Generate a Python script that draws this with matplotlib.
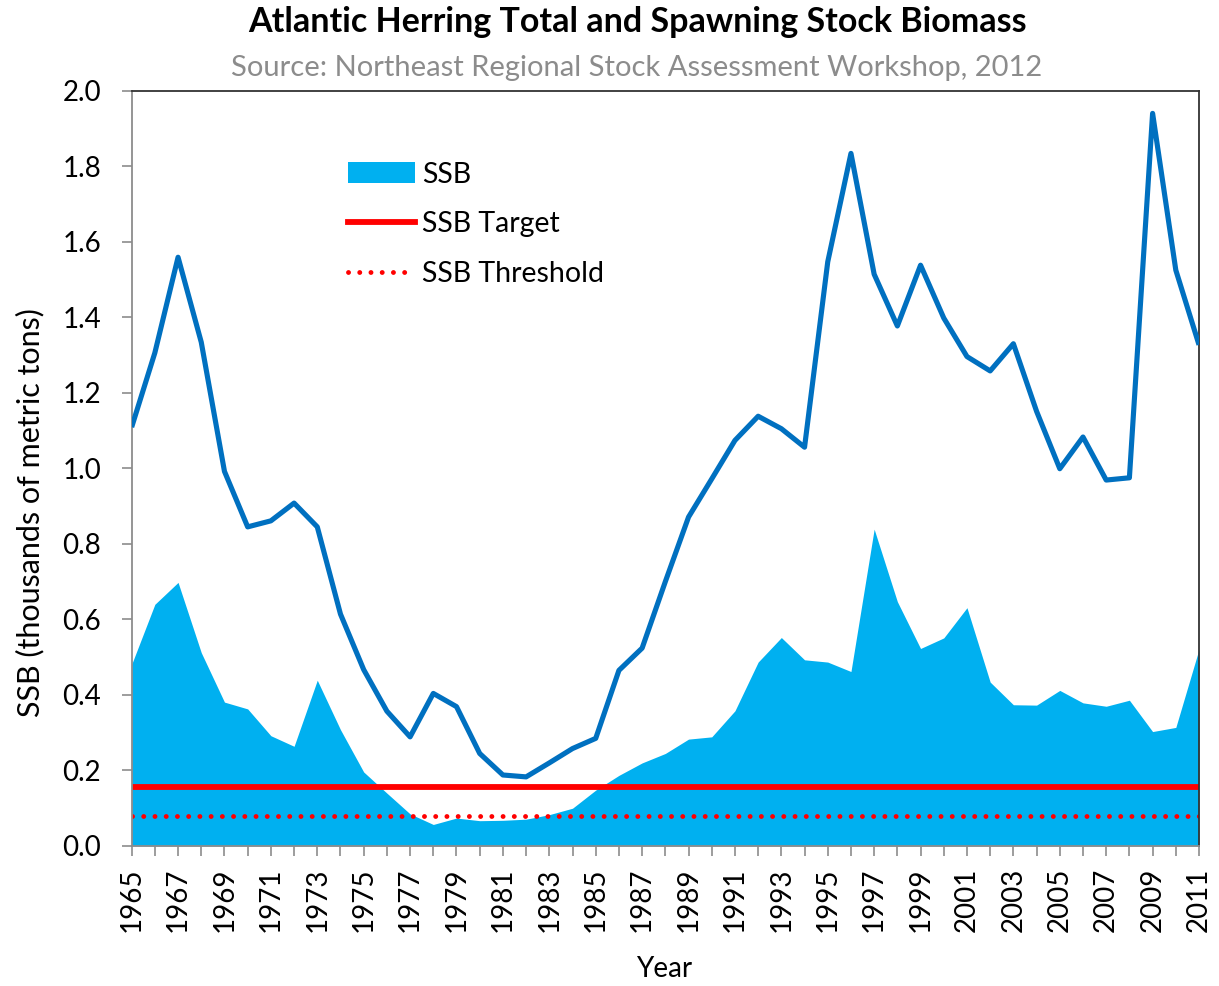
import matplotlib
matplotlib.use("Agg")
import matplotlib.pyplot as plt
from matplotlib.patches import Patch
from matplotlib.lines import Line2D

years = list(range(1965, 2012))
total_biomass = [1.109, 1.306, 1.559, 1.334, 0.992, 0.845, 0.861, 0.908, 0.845, 0.614,
                 0.467, 0.357, 0.289, 0.404, 0.369, 0.245, 0.188, 0.183, 0.220, 0.258,
                 0.285, 0.465, 0.524, 0.700, 0.871, 0.972, 1.074, 1.138, 1.105, 1.056,
                 1.547, 1.834, 1.514, 1.377, 1.538, 1.398, 1.296, 1.258, 1.330, 1.151,
                 0.999, 1.083, 0.969, 0.975, 1.940, 1.525, 1.327]
ssb = [0.481, 0.640, 0.698, 0.512, 0.381, 0.363, 0.292, 0.264, 0.439, 0.308,
       0.196, 0.140, 0.085, 0.057, 0.074, 0.067, 0.068, 0.071, 0.083, 0.100,
       0.148, 0.187, 0.220, 0.245, 0.283, 0.289, 0.358, 0.487, 0.552, 0.493,
       0.487, 0.462, 0.839, 0.647, 0.523, 0.551, 0.631, 0.434, 0.374, 0.373,
       0.412, 0.379, 0.370, 0.386, 0.303, 0.314, 0.521]
ssb_target = 0.157
ssb_threshold = 0.0785
y_ticks = [0.0, 0.2, 0.4, 0.6, 0.8, 1.0, 1.2, 1.4, 1.6, 1.8, 2.0]

plt.rcParams['font.family'] = ['Lato', 'DejaVu Sans']

fig = plt.figure(figsize=(12.19, 9.86), dpi=100)
ax = fig.add_axes([0.108, 0.142, 0.8756, 0.766])

dot_style = (0, (0.01, 2.3))

ax.fill_between(years, 0, ssb, color='#00B0F0', linewidth=0, zorder=1)
ax.axhline(ssb_target, color='#FF0000', linewidth=4.2, zorder=2)
ax.axhline(ssb_threshold, color='#FF0000', linewidth=3.5, linestyle=dot_style,
           dash_capstyle='round', zorder=2)
ax.plot(years, total_biomass, color='#0070C0', linewidth=3.7, zorder=3,
        solid_joinstyle='round', solid_capstyle='butt')

ax.set_xlim(1965, 2011)
ax.set_ylim(0, 2.0)
ax.set_yticks(y_ticks)
ax.set_yticklabels([f"{v:.1f}" for v in y_ticks], fontsize=20)
ax.set_xticks(years)
ax.set_xticklabels([str(y) if (y - 1965) % 2 == 0 else '' for y in years],
                   rotation=90, fontsize=20)
ax.tick_params(axis='both', direction='out', length=7.5, width=1.2, color='#8C8C8C')
ax.tick_params(axis='x', pad=8)
ax.tick_params(axis='y', pad=14.5)

for s in ['left', 'bottom']:
    ax.spines[s].set_color('#8C8C8C')
    ax.spines[s].set_linewidth(1.3)
for s in ['top', 'right']:
    ax.spines[s].set_color('#333333')
    ax.spines[s].set_linewidth(1.3)

ax.set_ylabel('SSB (thousands of metric tons)', fontsize=22)
ax.yaxis.set_label_coords(-0.082, 0.441)
ax.set_xlabel('Year', fontsize=20)
ax.xaxis.set_label_coords(0.499, -0.145)

fig.text(0.523, 0.978, 'Atlantic Herring Total and Spawning Stock Biomass',
         ha='center', va='center', fontsize=24.5, fontweight='bold', color='#000000')
fig.text(0.522, 0.931, 'Source: Northeast Regional Stock Assessment Workshop, 2012',
         ha='center', va='center', fontsize=21, color='#8C8C8C')

handles = [Patch(facecolor='#00B0F0', edgecolor='none'),
           Line2D([0], [0], color='#FF0000', linewidth=4.2),
           Line2D([0], [0], color='#FF0000', linewidth=3.5, linestyle=dot_style,
                  dash_capstyle='round')]
labels = ['SSB', 'SSB Target', 'SSB Threshold']
leg = ax.legend(handles, labels, loc='upper left', bbox_to_anchor=(0.1787, 0.940),
                frameon=False, fontsize=20.5, handlelength=2.35, handleheight=0.76,
                labelspacing=0.83, handletextpad=0.25)

fig.savefig('out.png', dpi=100)
